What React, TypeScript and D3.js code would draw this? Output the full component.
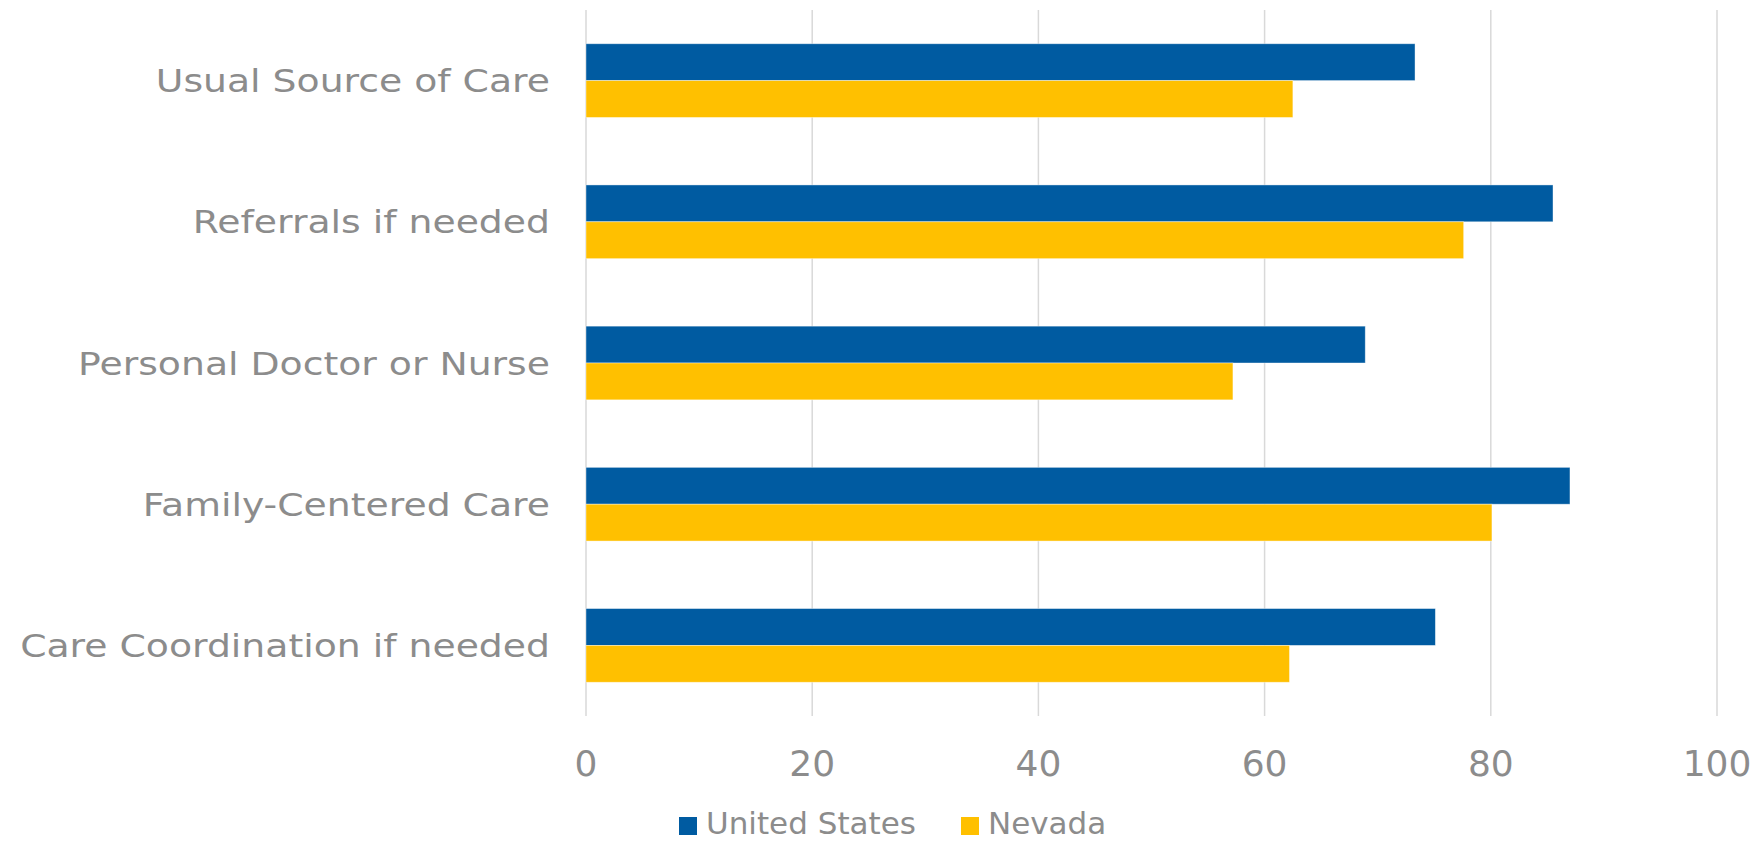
import React from 'react';
import * as d3 from 'd3';

const categories = [
  'Usual Source of Care',
  'Referrals if needed',
  'Personal Doctor or Nurse',
  'Family-Centered Care',
  'Care Coordination if needed',
];
const unitedStates = [73.3, 85.5, 68.9, 87.0, 75.1];
const nevada = [62.5, 77.6, 57.2, 80.1, 62.2];
const xTicks = [0, 20, 40, 60, 80, 100];
const seriesNames = ['United States', 'Nevada'];
const seriesColors = ['#005BA1', '#FFC000'];

const W = 1756;
const H = 842;
const FONT = "'DejaVu Sans', sans-serif";
const GRAY = '#8c8c8c';

const App: React.FC = () => {
  const x = d3.scaleLinear().domain([0, 100]).range([586, 1717]);
  const y = d3.scaleBand<string>()
    .domain(categories)
    .range([10, 716])
    .paddingInner(0.478)
    .paddingOuter(0.239);
  const sub = d3.scaleBand<string>()
    .domain(seriesNames)
    .range([0, y.bandwidth()]);

  const series = [unitedStates, nevada];

  // legend positions (swatch x, text x)
  const legend = [
    { sx: 679, tx: 706 },
    { sx: 961, tx: 988 },
  ];

  return (
    <div style={{ position: 'fixed', left: 0, top: 0 }}>
      <svg width={W} height={H} style={{ display: 'block', background: '#fff' }}>
        {/* grid */}
        {xTicks.map(t => (
          <line key={'g' + t} x1={x(t)} x2={x(t)} y1={10} y2={716}
            stroke="#d9d9d9" strokeWidth={1.5} />
        ))}

        {/* bars */}
        {categories.map((c, i) => (
          <g key={c} transform={`translate(0,${y(c)})`}>
            {series.map((s, k) => (
              <rect key={k}
                x={x(0)}
                y={sub(seriesNames[k])}
                width={x(s[i]) - x(0)}
                height={sub.bandwidth()}
                fill={seriesColors[k]}
                stroke="#ffffff" strokeOpacity={0.5} strokeWidth={0.8} />
            ))}
          </g>
        ))}

        {/* category labels, stretched a bit to match the wide original face */}
        {categories.map(c => (
          <g key={'l' + c}
            transform={`translate(550,${(y(c) || 0) + y.bandwidth() / 2}) scale(1.18,1)`}>
            <text x={0} y={0} dy="0.36em" textAnchor="end" fill={GRAY}
              style={{ fontFamily: FONT, fontSize: 32 }}>
              {c}
            </text>
          </g>
        ))}

        {/* x tick labels */}
        {xTicks.map(t => (
          <text key={'t' + t} x={x(t)} y={763} dy="0.36em" textAnchor="middle"
            fill={GRAY} style={{ fontFamily: FONT, fontSize: 36 }}>
            {t}
          </text>
        ))}

        {/* legend */}
        {seriesNames.map((n, k) => (
          <g key={'lg' + n}>
            <rect x={legend[k].sx} y={817} width={18} height={18} fill={seriesColors[k]} />
            <text x={legend[k].tx} y={834} fill={GRAY}
              style={{ fontFamily: FONT, fontSize: 31 }}>{n}</text>
          </g>
        ))}
      </svg>
    </div>
  );
};

export default App;
